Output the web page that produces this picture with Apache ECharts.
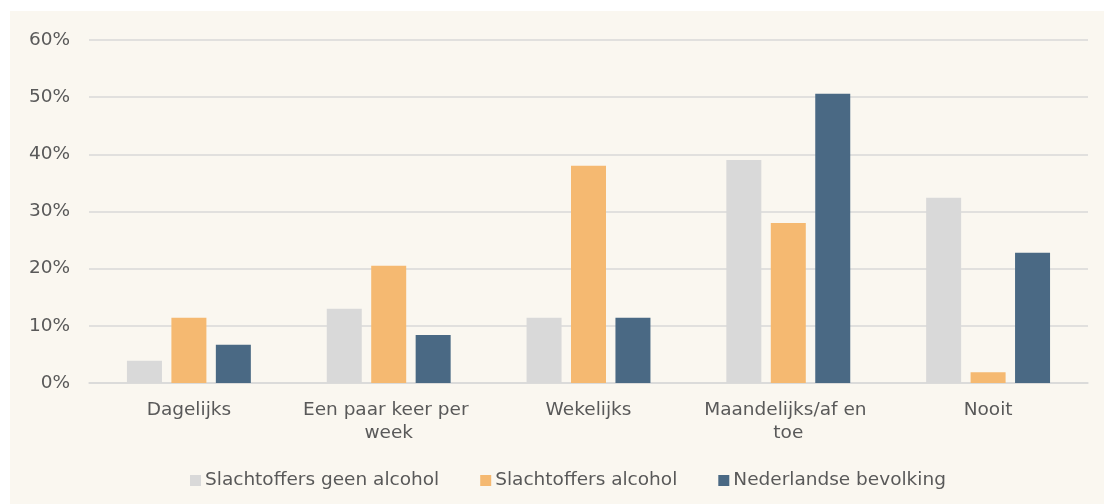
<!DOCTYPE html>
<html>
<head>
<meta charset="utf-8" />
<title>Frequentie</title>
<script src="https://cdn.jsdelivr.net/npm/echarts@6/dist/echarts.min.js"></script>
<style>
    html, body { margin: 0; padding: 0; background: #ffffff; }
    #chart { position: absolute; left: 10px; top: 11px; width: 1094px; height: 493px; background: #faf7f0; }
</style>
</head>
<body>
<div id="chart"></div>
<script type="text/javascript">
// categorieen en waarden (in %)
var categories = ["Dagelijks", "Een paar keer per week", "Wekelijks", "Maandelijks/af en toe", "Nooit"];
var seriesNames = ["Slachtoffers geen alcohol", "Slachtoffers alcohol", "Nederlandse bevolking"];
var geenAlcohol = [3.9, 13.0, 11.4, 39.0, 32.4];
var metAlcohol = [11.4, 20.5, 38.0, 28.0, 1.9];
var bevolking = [6.7, 8.4, 11.4, 50.6, 22.8];
var colors = ["#d9d9d9", "#f5b971", "#4a6984"];

var chart = echarts.init(document.getElementById("chart"));

function makeSeries(name, values, color) {
    return {
        name: name,
        type: "bar",
        data: values,
        barWidth: 35,
        barGap: "27%",
        itemStyle: { color: color },
        emphasis: { disabled: true }
    };
}

var option = {
    animation: false,
    textStyle: { fontFamily: "DejaVu Sans" },
    grid: { left: 79, right: 16, top: 29, bottom: 121 },
    legend: {
        left: 175,
        top: 455,
        itemWidth: 11,
        itemHeight: 11,
        itemGap: 41,
        icon: "rect",
        textStyle: {
            fontFamily: "DejaVu Sans",
            fontSize: 18.5,
            color: "#595959",
            padding: [0, 0, 0, -1]
        },
        data: seriesNames
    },
    xAxis: {
        type: "category",
        data: categories,
        axisTick: { show: false },
        axisLine: { lineStyle: { color: "#d9d9d9", width: 1.5 } },
        axisLabel: {
            color: "#595959",
            fontSize: 18.5,
            margin: 16,
            width: 190,
            overflow: "break",
            lineHeight: 23,
            interval: 0
        }
    },
    yAxis: {
        type: "value",
        min: 0,
        max: 60,
        interval: 10,
        axisLine: { show: false },
        axisTick: { show: false },
        axisLabel: {
            color: "#595959",
            fontSize: 18.5,
            margin: 19,
            formatter: "{value}%"
        },
        splitLine: { lineStyle: { color: "#d9d9d9", width: 1.5 } }
    },
    series: [
        makeSeries(seriesNames[0], geenAlcohol, colors[0]),
        makeSeries(seriesNames[1], metAlcohol, colors[1]),
        makeSeries(seriesNames[2], bevolking, colors[2])
    ]
};
chart.setOption(option);
</script>
</body>
</html>
